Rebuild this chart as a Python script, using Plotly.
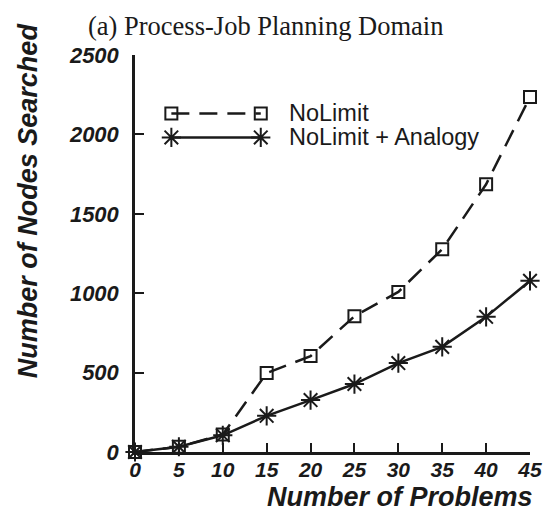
import plotly.graph_objects as go

problems = [0, 5, 10, 15, 20, 25, 30, 35, 40, 45]
nolimit = [0, 33, 110, 497, 604, 855, 1008, 1277, 1686, 2235]
nolimit_analogy = [0, 33, 105, 228, 327, 428, 560, 662, 851, 1078]
x_ticks = [0, 5, 10, 15, 20, 25, 30, 35, 40, 45]
y_ticks = [0, 500, 1000, 1500, 2000, 2500]
series_names = ["NoLimit", "NoLimit + Analogy"]
title_text = "(a) Process-Job Planning Domain"
x_title = "Number of Problems"
y_title = "Number of Nodes Searched"

# page offset from default body margin
OFF = 8
PX_L, PX_R, PX_T, PX_B = 135, 537, 54.5, 452   # plot area in page pixels
W, H = 554 - OFF, 514 - OFF
L, T = PX_L - OFF, PX_T - OFF
R = W - (PX_R - OFF)
B = H - (PX_B - OFF)

def px(x):
    return (x - PX_L) / (PX_R - PX_L)

def py(y):
    return (PX_B - y) / (PX_B - PX_T)

SANS = "Liberation Sans, Arial, Helvetica, sans-serif"
SERIF = "Liberation Serif, Times New Roman, serif"
INK = "#1a1a1a"
ytick_font = dict(family=SANS, size=22, color=INK, weight=700, style="italic")
xtick_font = dict(family=SANS, size=21, color=INK, weight=700, style="italic")

fig = go.Figure()
fig.add_trace(go.Scatter(
    x=problems, y=nolimit, mode="lines+markers", name=series_names[0],
    line=dict(color=INK, width=2.5, dash="18px,10px"),
    marker=dict(symbol="square-open", size=12, color=INK, line=dict(width=2, color=INK)),
    cliponaxis=False, showlegend=False))
fig.add_trace(go.Scatter(
    x=problems, y=nolimit_analogy, mode="lines+markers", name=series_names[1],
    line=dict(color=INK, width=2.5),
    marker=dict(symbol="asterisk-open", size=16, color=INK, line=dict(width=2, color=INK)),
    cliponaxis=False, showlegend=False))

# manual legend glyphs in page-pixel coordinates (overlay axes)
leg_x = [172, 263]
leg_rows = [113, 137]
fig.add_trace(go.Scatter(
    x=leg_x, y=[leg_rows[0]] * 2, xaxis="x2", yaxis="y2", mode="lines+markers",
    line=dict(color=INK, width=2.5, dash="18px,10px"),
    marker=dict(symbol="square-open", size=12, color=INK, line=dict(width=2, color=INK)),
    cliponaxis=False, showlegend=False, hoverinfo="skip"))
fig.add_trace(go.Scatter(
    x=leg_x, y=[leg_rows[1]] * 2, xaxis="x2", yaxis="y2", mode="lines+markers",
    line=dict(color=INK, width=2.5),
    marker=dict(symbol="asterisk-open", size=16, color=INK, line=dict(width=2, color=INK)),
    cliponaxis=False, showlegend=False, hoverinfo="skip"))

bold_it = dict(family=SANS, color=INK, weight=700, style="italic")
annotations = [
    dict(x=px(290), y=py(leg_rows[0]), text=series_names[0], xanchor="left", yanchor="middle",
         font=dict(family=SANS, size=23.5, color=INK)),
    dict(x=px(290), y=py(leg_rows[1]), text=series_names[1], xanchor="left", yanchor="middle",
         font=dict(family=SANS, size=23.5, color=INK)),
    dict(x=px(268), y=py(25), text=title_text, xanchor="center", yanchor="middle",
         font=dict(family=SERIF, size=26.5, color=INK)),
    dict(x=px(542), y=py(497), text=x_title, xanchor="right", yanchor="middle",
         font=dict(bold_it, size=27)),
    dict(x=px(26), y=py(200), text=y_title, textangle=-90, xanchor="center", yanchor="middle",
         font=dict(bold_it, size=27)),
]
annotations = [dict(a, xref="paper", yref="paper", showarrow=False) for a in annotations]

fig.update_layout(
    width=W, height=H, margin=dict(l=L, r=R, t=T, b=B, pad=0),
    paper_bgcolor="white", plot_bgcolor="white", showlegend=False,
    xaxis=dict(range=[0, 45], tickvals=x_ticks, ticks="inside", ticklen=9, tickwidth=2,
               tickcolor=INK, showline=True, linecolor=INK, linewidth=2.5,
               showgrid=False, zeroline=False, tickfont=xtick_font, ticklabelstandoff=-3),
    yaxis=dict(range=[0, 2500], tickvals=y_ticks, ticks="inside", ticklen=9, tickwidth=2,
               tickcolor=INK, showline=True, linecolor=INK, linewidth=2.5,
               showgrid=False, zeroline=False, tickfont=ytick_font, ticklabelstandoff=9),
    xaxis2=dict(range=[PX_L, PX_R], overlaying="x", visible=False, fixedrange=True),
    yaxis2=dict(range=[PX_B, PX_T], overlaying="y", visible=False, fixedrange=True),
    annotations=annotations,
)

fig.write_html("out.html")
